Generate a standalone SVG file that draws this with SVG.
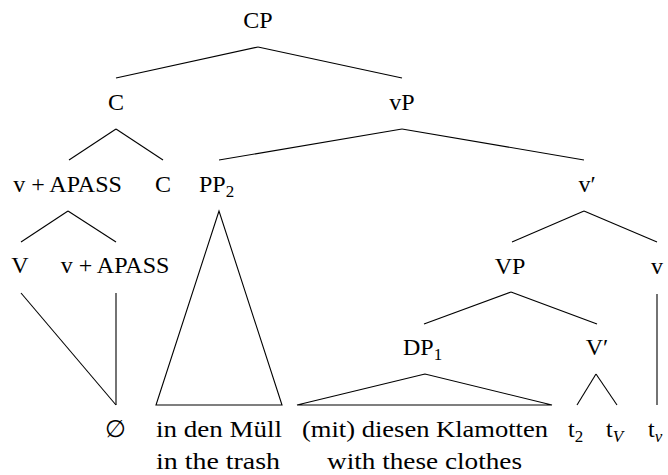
<svg xmlns="http://www.w3.org/2000/svg" width="668" height="475" viewBox="0 0 668 475">
<rect width="668" height="475" fill="#fff"/>
<g id="connectors" stroke="#000" stroke-width="1.1" fill="none">
<line x1="258" y1="47" x2="116" y2="78"/>
<line x1="258" y1="47" x2="402" y2="78"/>
<line x1="116" y1="129" x2="69" y2="160"/>
<line x1="116" y1="129" x2="163" y2="160"/>
<line x1="402" y1="129" x2="219" y2="160"/>
<line x1="402" y1="129" x2="584" y2="160"/>
<line x1="68" y1="211" x2="21" y2="242"/>
<line x1="68" y1="211" x2="116" y2="242"/>
<line x1="584" y1="211" x2="512" y2="242"/>
<line x1="584" y1="211" x2="657" y2="242"/>
<line x1="511" y1="292" x2="424" y2="324"/>
<line x1="511" y1="292" x2="597" y2="324"/>
<line x1="21" y1="293" x2="116" y2="405"/>
<line x1="116" y1="293" x2="116" y2="405"/>
<polygon points="219,211 156,405 282,405"/>
<line x1="657" y1="294" x2="657" y2="405"/>
<polygon points="425,374 297,405 552,405"/>
<line x1="596" y1="374" x2="577" y2="405"/>
<line x1="596" y1="374" x2="617" y2="405"/>
</g>
<g id="CP"><text style="font-family:'Liberation Serif',serif;font-size:24px" font-family="Liberation Serif" font-size="24" text-anchor="middle" x="258" y="28">CP</text></g>
<g id="C1"><text style="font-family:'Liberation Serif',serif;font-size:24px" font-family="Liberation Serif" font-size="24" text-anchor="middle" x="116" y="110">C</text></g>
<g id="vP"><text style="font-family:'Liberation Serif',serif;font-size:24px" font-family="Liberation Serif" font-size="24" text-anchor="middle" x="402" y="110">vP</text></g>
<g id="vAPASS1"><text style="font-family:'Liberation Serif',serif;font-size:24px" font-family="Liberation Serif" font-size="24" text-anchor="middle" x="67.5" y="192">v + APASS</text></g>
<g id="C2"><text style="font-family:'Liberation Serif',serif;font-size:24px" font-family="Liberation Serif" font-size="24" text-anchor="middle" x="163" y="192">C</text></g>
<g id="PP2"><text style="font-family:'Liberation Serif',serif;font-size:24px" font-family="Liberation Serif" font-size="24" x="199" y="192">PP<tspan style="font-size:17px" font-size="17" dy="5">2</tspan></text></g>
<g id="vbar"><text style="font-family:'Liberation Serif',serif;font-size:24px" font-family="Liberation Serif" font-size="24" text-anchor="middle" x="587" y="192">v′</text></g>
<g id="Vhead"><text style="font-family:'Liberation Serif',serif;font-size:24px" font-family="Liberation Serif" font-size="24" text-anchor="middle" x="20" y="273">V</text></g>
<g id="vAPASS2"><text style="font-family:'Liberation Serif',serif;font-size:24px" font-family="Liberation Serif" font-size="24" text-anchor="middle" x="115" y="273">v + APASS</text></g>
<g id="VP"><text style="font-family:'Liberation Serif',serif;font-size:24px" font-family="Liberation Serif" font-size="24" text-anchor="middle" x="510" y="274">VP</text></g>
<g id="vhead"><text style="font-family:'Liberation Serif',serif;font-size:24px" font-family="Liberation Serif" font-size="24" text-anchor="middle" x="657" y="274">v</text></g>
<g id="DP1"><text style="font-family:'Liberation Serif',serif;font-size:24px" font-family="Liberation Serif" font-size="24" x="403" y="355">DP<tspan style="font-size:17px" font-size="17" dy="5">1</tspan></text></g>
<g id="Vbar"><text style="font-family:'Liberation Serif',serif;font-size:24px" font-family="Liberation Serif" font-size="24" text-anchor="middle" x="597" y="355">V′</text></g>
<g id="empty"><text style="font-family:'Liberation Serif',serif;font-size:24px" font-family="Liberation Serif" font-size="24" text-anchor="middle" x="115" y="437">∅</text></g>
<g id="pp-text">
<text style="font-family:'Liberation Serif',serif;font-size:24px" font-family="Liberation Serif" font-size="24" x="156" y="437" textLength="126" lengthAdjust="spacingAndGlyphs">in den Müll</text>
<text style="font-family:'Liberation Serif',serif;font-size:24px" font-family="Liberation Serif" font-size="24" x="156" y="469" textLength="124" lengthAdjust="spacingAndGlyphs">in the trash</text>
</g>
<g id="dp-text">
<text style="font-family:'Liberation Serif',serif;font-size:24px" font-family="Liberation Serif" font-size="24" x="302" y="437" textLength="246" lengthAdjust="spacingAndGlyphs">(mit) diesen Klamotten</text>
<text style="font-family:'Liberation Serif',serif;font-size:24px" font-family="Liberation Serif" font-size="24" x="327" y="469" textLength="195" lengthAdjust="spacingAndGlyphs">with these clothes</text>
</g>
<g id="t2"><text style="font-family:'Liberation Serif',serif;font-size:24px" font-family="Liberation Serif" font-size="24" x="568" y="437">t<tspan style="font-size:17px" font-size="17" dy="5">2</tspan></text></g>
<g id="tV"><text style="font-family:'Liberation Serif',serif;font-size:24px" font-family="Liberation Serif" font-size="24" x="606" y="437">t<tspan style="font-size:17px;font-style:italic" font-size="17" dy="5">V</tspan></text></g>
<g id="tv"><text style="font-family:'Liberation Serif',serif;font-size:24px" font-family="Liberation Serif" font-size="24" x="648" y="437">t<tspan style="font-size:17px;font-style:italic" font-size="17" dy="5">v</tspan></text></g>
</svg>
